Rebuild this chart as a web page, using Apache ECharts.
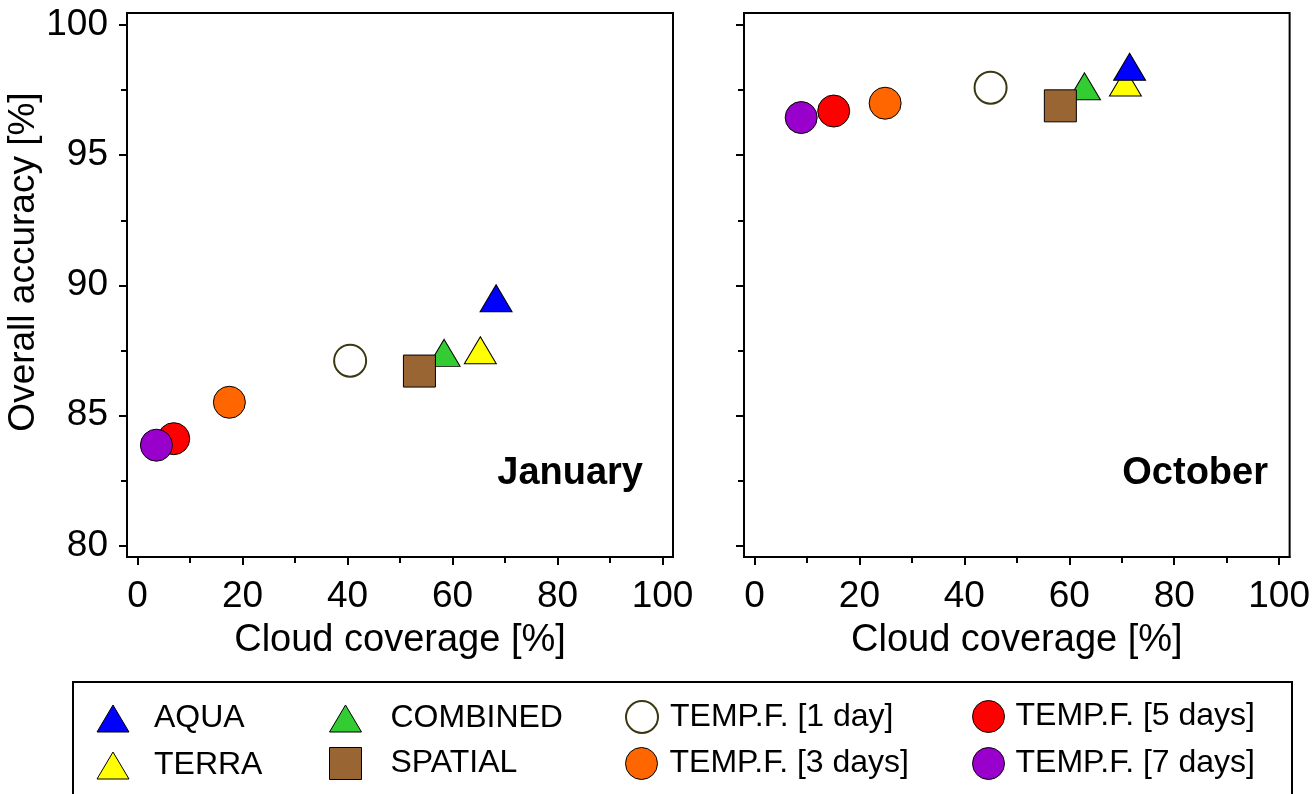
<!DOCTYPE html>
<html>
<head>
<meta charset="utf-8">
<script src="https://cdn.jsdelivr.net/npm/echarts@6/dist/echarts.min.js"></script>
<style>
html,body{margin:0;padding:0;background:#fff;}
#chart{width:1313px;height:794px;}
</style>
</head>
<body>
<div id="chart"></div>
<script>
// ---- data ----
const panelTitles = ['January', 'October'];
const seriesNames = ['AQUA', 'TERRA', 'COMBINED', 'SPATIAL', 'TEMP.F. [1 day]', 'TEMP.F. [3 days]', 'TEMP.F. [5 days]', 'TEMP.F. [7 days]'];
const janCloud    = [68.3, 65.3, 58.4, 53.7, 40.5, 17.5, 6.9, 3.6];
const janAccuracy = [89.5, 87.5, 87.4, 86.7, 87.1, 85.5, 84.1, 83.85];
const octCloud    = [71.5, 70.7, 62.9, 58.3, 45.0, 24.9, 15.1, 8.9];
const octAccuracy = [98.4, 97.8, 97.65, 96.9, 97.6, 97.0, 96.7, 96.45];
const xTicks = [0, 20, 40, 60, 80, 100];
const xMinorTicks = [10, 30, 50, 70, 90];
const yTicks = [80, 85, 90, 95, 100];
const yMinorTicks = [82.5, 87.5, 92.5, 97.5];
const xAxisName = 'Cloud coverage [%]';
const yAxisName = 'Overall accuracy [%]';

// ---- styles ----
const FONT = "'Liberation Sans', Arial, sans-serif";
const styles = {
  'AQUA':             {symbol: 'triangle', size: [32, 27], color: '#0000ff', border: '#000', bw: 1},
  'TERRA':            {symbol: 'triangle', size: [32, 27], color: '#ffff00', border: '#000', bw: 1},
  'COMBINED':         {symbol: 'triangle', size: [32, 27], color: '#33cc33', border: '#000', bw: 1},
  'SPATIAL':          {symbol: 'rect',     size: [32, 32], color: '#996633', border: '#000', bw: 1},
  'TEMP.F. [1 day]':  {symbol: 'circle',   size: [32, 32], color: '#ffffff', border: '#3a3812', bw: 2},
  'TEMP.F. [3 days]': {symbol: 'circle',   size: [32, 32], color: '#ff6600', border: '#000', bw: 1},
  'TEMP.F. [5 days]': {symbol: 'circle',   size: [32, 32], color: '#ff0000', border: '#000', bw: 1},
  'TEMP.F. [7 days]': {symbol: 'circle',   size: [32, 32], color: '#9900cc', border: '#000', bw: 1}
};
// drawing order (later on top)
const drawOrder = ['TERRA', 'AQUA', 'COMBINED', 'SPATIAL', 'TEMP.F. [1 day]', 'TEMP.F. [3 days]', 'TEMP.F. [5 days]', 'TEMP.F. [7 days]'];

const grids = [
  {left: 127, top: 13, width: 546, height: 544, show: true, borderColor: '#000', borderWidth: 2},
  {left: 744, top: 13, width: 546, height: 544, show: true, borderColor: '#000', borderWidth: 2}
];
const XMIN = -2, XMAX = 102, YMIN = 79.55, YMAX = 100.47;

const xAxes = [], yAxes = [];
for (let g = 0; g < 2; g++) {
  xAxes.push({
    type: 'value', gridIndex: g, min: XMIN, max: XMAX, position: 'bottom',
    name: xAxisName, nameLocation: 'middle', nameGap: 65,
    nameTextStyle: {fontFamily: FONT, fontSize: 38, color: '#000'},
    axisLine: {show: true, onZero: false, lineStyle: {color: '#000', width: 2}},
    axisTick: {show: true, inside: false, length: 8, lineStyle: {color: '#000', width: 2}, customValues: xTicks},
    axisLabel: {show: true, margin: 21, fontFamily: FONT, fontSize: 37, color: '#000', customValues: xTicks},
    splitLine: {show: false}
  });
  xAxes.push({
    type: 'value', gridIndex: g, min: XMIN, max: XMAX, position: 'bottom',
    axisLine: {show: false, onZero: false},
    axisTick: {show: true, inside: false, length: 6, lineStyle: {color: '#000', width: 2}, customValues: xMinorTicks},
    axisLabel: {show: false, customValues: xMinorTicks},
    splitLine: {show: false}
  });
  yAxes.push({
    type: 'value', gridIndex: g, min: YMIN, max: YMAX, position: 'left',
    name: g === 0 ? yAxisName : '', nameLocation: 'middle', nameGap: 79,
    nameTextStyle: {fontFamily: FONT, fontSize: 37, color: '#000', padding: [0, 0, 0, 46]},
    axisLine: {show: true, onZero: false, lineStyle: {color: '#000', width: 2}},
    axisTick: {show: true, inside: false, length: 8, lineStyle: {color: '#000', width: 2}, customValues: yTicks},
    axisLabel: {show: g === 0, margin: 19, fontFamily: FONT, fontSize: 37, color: '#000', customValues: yTicks},
    splitLine: {show: false}
  });
  yAxes.push({
    type: 'value', gridIndex: g, min: YMIN, max: YMAX, position: 'left',
    axisLine: {show: false, onZero: false},
    axisTick: {show: true, inside: false, length: 6, lineStyle: {color: '#000', width: 2}, customValues: yMinorTicks},
    axisLabel: {show: false, customValues: yMinorTicks},
    splitLine: {show: false}
  });
}

const series = [];
const panels = [[janCloud, janAccuracy], [octCloud, octAccuracy]];
panels.forEach(function (p, g) {
  drawOrder.forEach(function (name) {
    const i = seriesNames.indexOf(name);
    const s = styles[name];
    series.push({
      type: 'scatter', name: name,
      xAxisIndex: g * 2, yAxisIndex: g * 2,
      symbol: s.symbol, symbolSize: s.size,
      itemStyle: {color: s.color, borderColor: s.border, borderWidth: s.bw, opacity: 1},
      emphasis: {disabled: true},
      data: [[p[0][i], p[1][i]]]
    });
  });
});

// legend: one component per item, 4 columns x 2 rows
const legendPos = {
  'AQUA':             {cx: 112.5, cy: 716, pad: 20},
  'TERRA':            {cx: 112.5, cy: 763, pad: 20},
  'COMBINED':         {cx: 345,   cy: 716, pad: 24},
  'SPATIAL':          {cx: 345,   cy: 763, pad: 24},
  'TEMP.F. [1 day]':  {cx: 641,   cy: 716, pad: 7},
  'TEMP.F. [3 days]': {cx: 641,   cy: 763, pad: 7},
  'TEMP.F. [5 days]': {cx: 988,   cy: 716, pad: 6},
  'TEMP.F. [7 days]': {cx: 988,   cy: 763, pad: 6}
};
const legends = seriesNames.map(function (name) {
  const s = styles[name], lp = legendPos[name];
  return {
    show: true, orient: 'vertical', selectedMode: false, padding: 0,
    left: lp.cx - s.size[0] / 2, top: lp.cy - s.size[1] / 2,
    itemWidth: s.size[0], itemHeight: s.size[1],
    icon: s.symbol,
    itemStyle: {color: s.color, borderColor: s.border, borderWidth: s.bw},
    textStyle: {fontFamily: FONT, fontSize: 32, color: '#000', padding: [0, 0, 0, lp.pad]},
    data: [name]
  };
});

const option = {
  backgroundColor: '#fff',
  animation: false,
  grid: grids,
  xAxis: xAxes,
  yAxis: yAxes,
  series: series,
  legend: legends,
  title: [
    {text: panelTitles[0], right: 670, top: 455, padding: 0,
     textStyle: {fontFamily: FONT, fontSize: 38, fontWeight: 'bold', color: '#000'}},
    {text: panelTitles[1], right: 45, top: 455, padding: 0,
     textStyle: {fontFamily: FONT, fontSize: 38, fontWeight: 'bold', color: '#000'}}
  ],
  graphic: [{
    type: 'rect', silent: true,
    shape: {x: 73, y: 682, width: 1219, height: 140},
    style: {fill: 'none', stroke: '#000', lineWidth: 2}
  }]
};

const chart = echarts.init(document.getElementById('chart'), null, {renderer: 'canvas'});
chart.setOption(option);
</script>
</body>
</html>
